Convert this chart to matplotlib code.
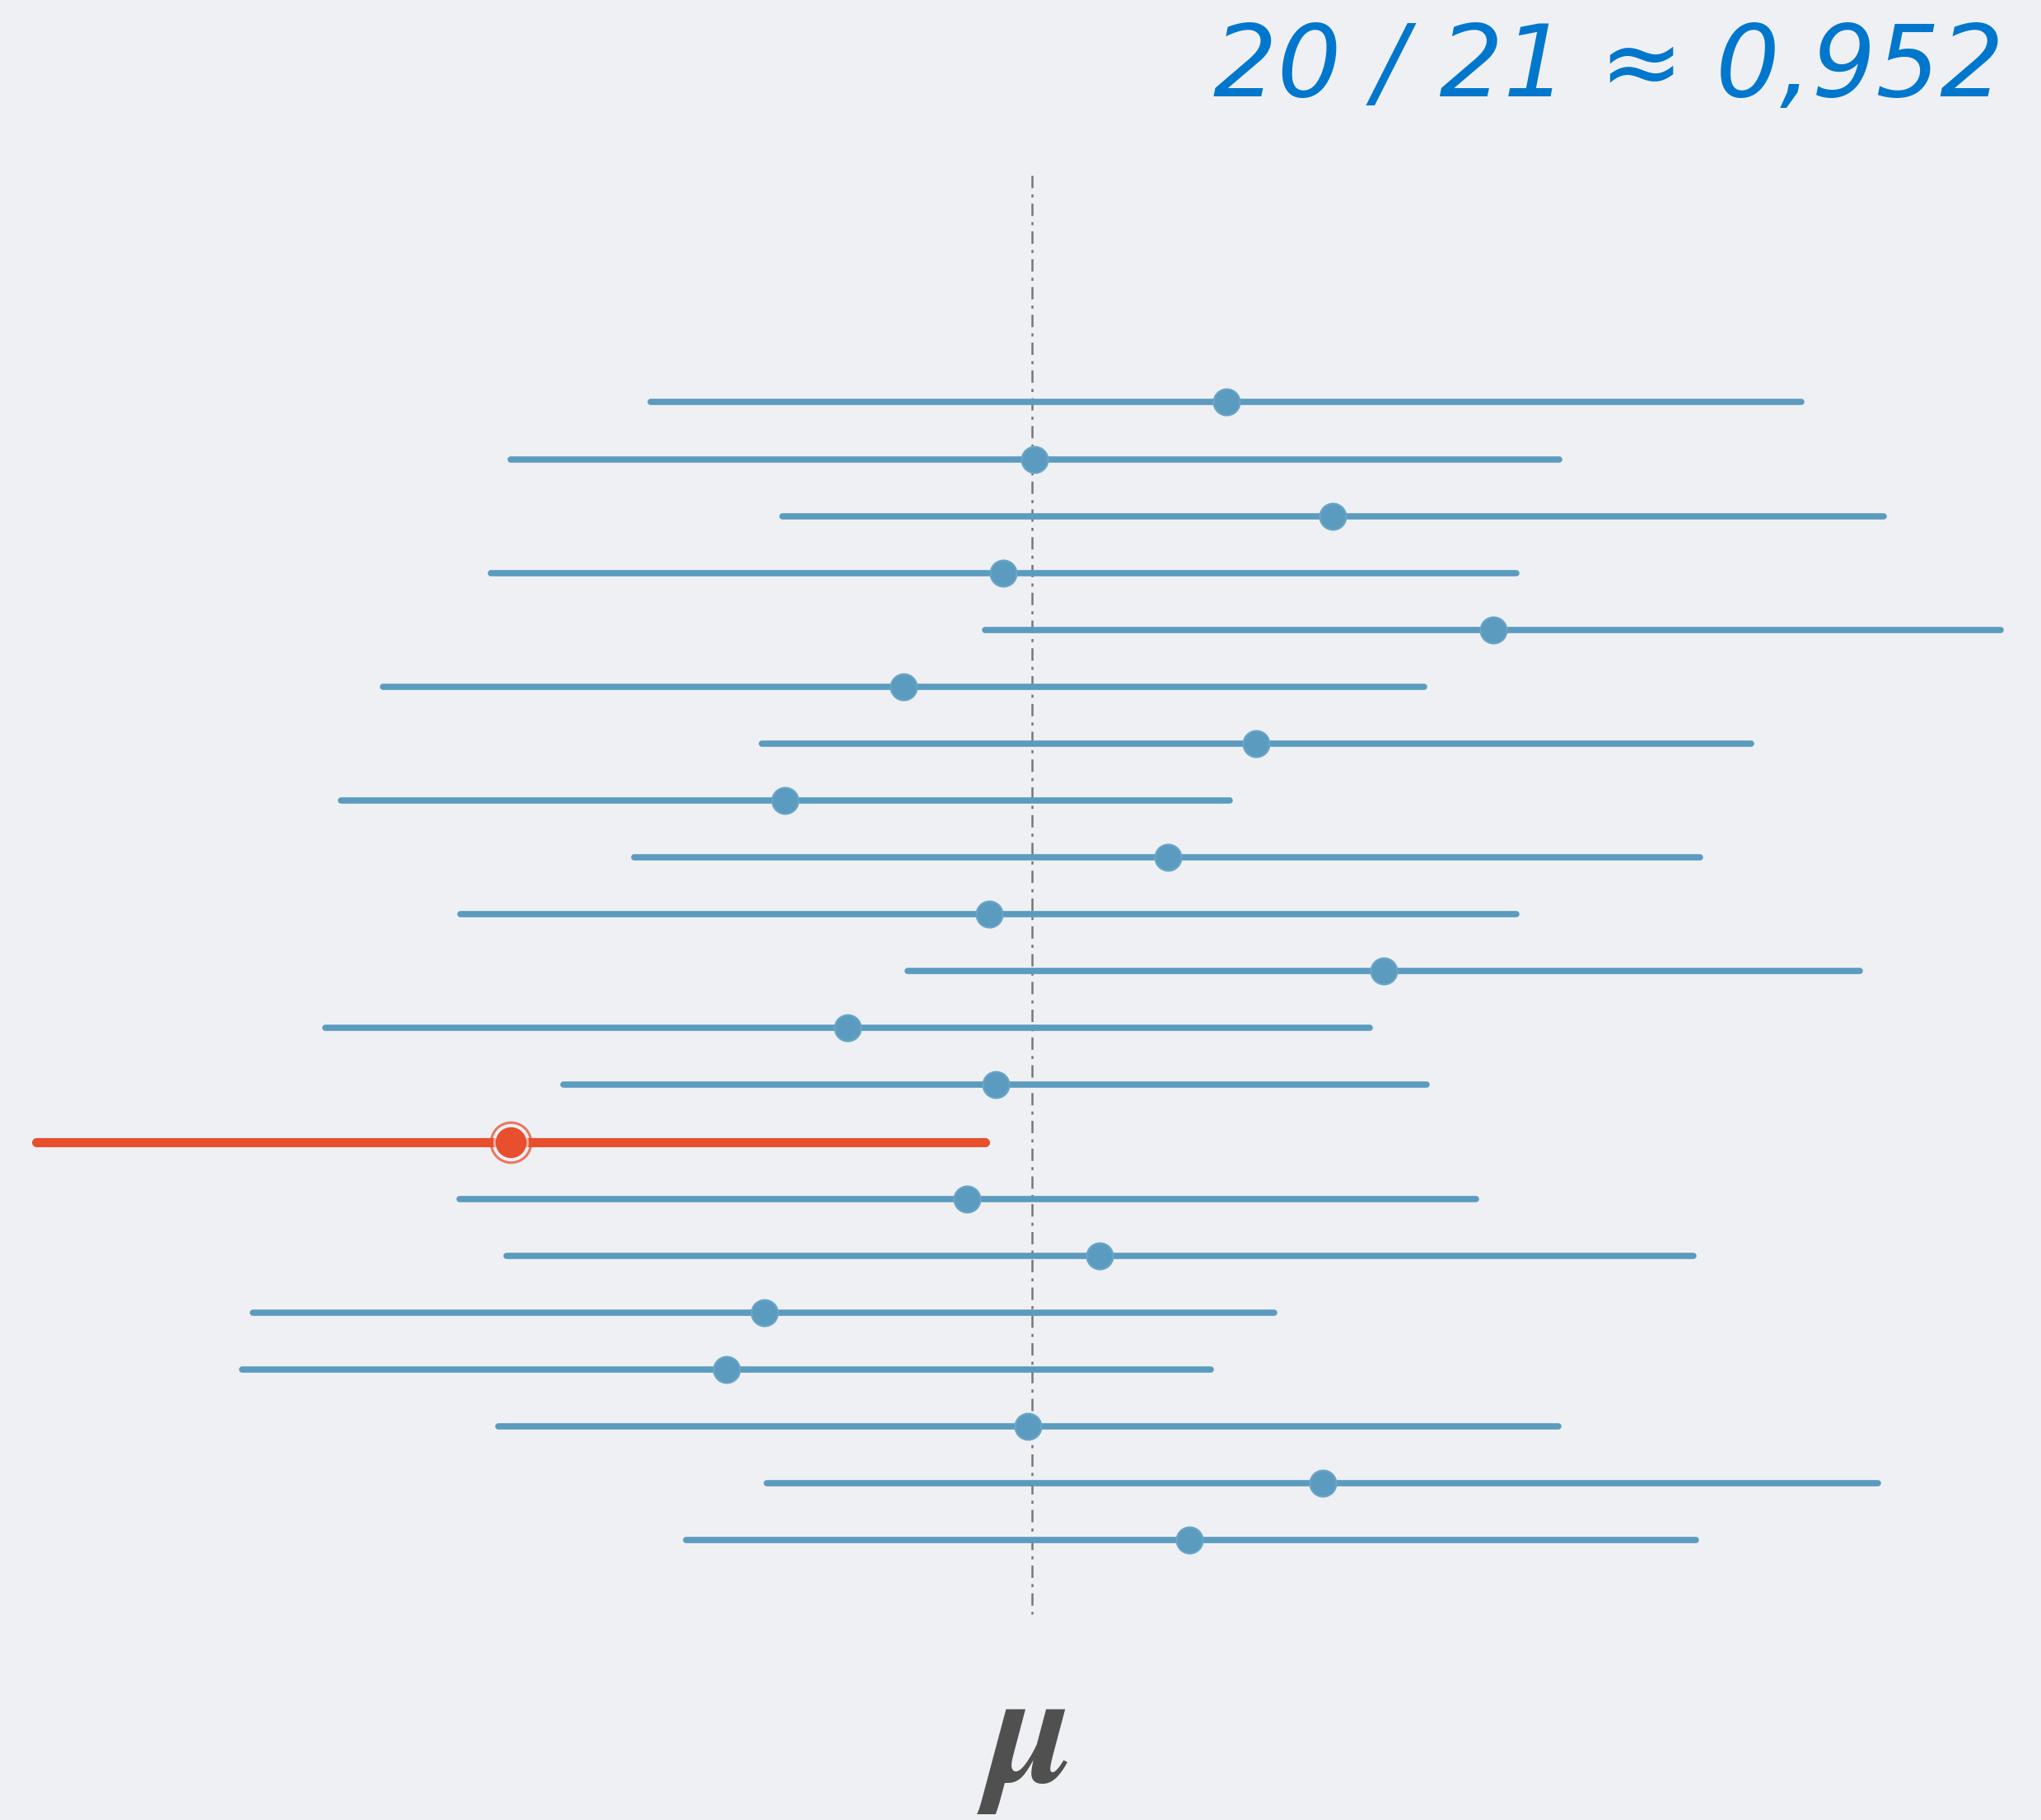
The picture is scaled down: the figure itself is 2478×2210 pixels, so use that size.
import numpy as np
import matplotlib.pyplot as plt

# confidence intervals, one per sample (mu = 0)
lower = [-2.93, -4.01, -1.92, -4.16, -0.36, -4.99, -2.08, -5.31, -3.06, -4.39, -0.96,
         -5.43, -3.60, -7.65, -4.40, -4.04, -5.99, -6.07, -4.10, -2.04, -2.66]
estimate = [1.49, 0.02, 2.31, -0.22, 3.54, -0.99, 1.72, -1.90, 1.04, -0.33, 2.70,
            -1.42, -0.28, -4.01, -0.50, 0.52, -2.06, -2.35, -0.03, 2.23, 1.21]
upper = [5.91, 4.05, 6.54, 3.72, 7.44, 3.01, 5.52, 1.52, 5.13, 3.72, 6.36,
         2.59, 3.03, -0.36, 3.41, 5.08, 1.86, 1.37, 4.04, 6.50, 5.10]
mu = 0.0

bg = '#eff0f4'
blue = '#5b9bbf'
red = '#e84f2d'

n = len(estimate)
covered = [(lo <= mu <= hi) for lo, hi in zip(lower, upper)]

fig = plt.figure(figsize=(24.78, 22.10), dpi=100, facecolor=bg)
ax = fig.add_axes([0, 0, 1, 1])
ax.set_facecolor(bg)
ax.set_xlim(-7.93, 7.75)
ax.set_ylim(24.92, -7.07)
ax.axis('off')

# reference line at mu
ax.plot([mu, mu], [-3.98, 21.3], color='#777777', lw=1.8, ls=(0, (6, 3, 1.5, 3)), zorder=1)

for i in range(n):
    if covered[i]:
        ax.plot([lower[i], upper[i]], [i, i], color=blue, lw=5.5,
                solid_capstyle='round', zorder=2)
        ax.plot(estimate[i], i, 'o', color=blue, ms=23, mec='#6aa6c6', mew=1.5, zorder=3)
    else:
        ax.plot([lower[i], upper[i]], [i, i], color=red, lw=8,
                solid_capstyle='round', zorder=2)
        ax.plot(estimate[i], i, 'o', ms=35, mfc='none', mec=red, mew=2.2,
                alpha=0.75, zorder=3)
        ax.plot(estimate[i], i, 'o', ms=31, color=bg, mec=bg, mew=0, alpha=0.6, zorder=4)
        ax.plot(estimate[i], i, 'o', ms=27, color=red, mec=red, mew=0, zorder=5)

# mu label
ax.text(mu, 23.55, 'μ', ha='center', va='center', fontsize=140, color='#505050',
        family='STIXGeneral', style='italic', weight='bold')

k = sum(covered)
ratio = '{:.3f}'.format(k / n).replace('.', ',')
fig.text(0.982, 0.962, f'{k} / {n} ≈ {ratio}', ha='right', va='center',
         fontsize=88, style='italic', family='DejaVu Sans', color='#0077cc')

fig.savefig('out.png', dpi=100, facecolor=bg)
